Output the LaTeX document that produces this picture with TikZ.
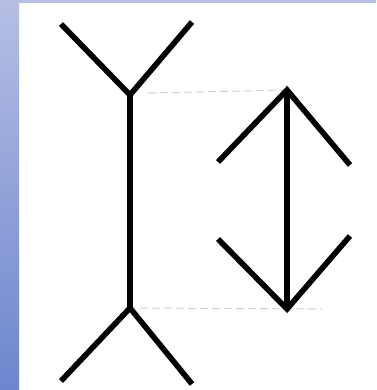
\documentclass[tikz,border=0pt]{standalone}
\definecolor{barTop}{RGB}{182,190,228}
\definecolor{barBot}{RGB}{108,134,206}
\begin{document}
\begin{tikzpicture}[x=0.5pt, y=-0.5pt,
  arm/.style={line width=2.8pt, black, line cap=butt, line join=miter},
  guide/.style={gray!35, line width=0.5pt, dash pattern=on 4pt off 2pt}]
  % frame and side bar
  \useasboundingbox (0,0) rectangle (376,390);
  \fill[white] (0,0) rectangle (376,390);
  \shade[top color=barTop, bottom color=barBot] (0,0) rectangle (19,390);
  \fill[barTop] (0,0) rectangle (376,3);
  % left figure: fins outward
  \coordinate (lt) at (130,95);
  \coordinate (lb) at (130,308);
  \coordinate (ltl) at (61,24);
  \coordinate (ltr) at (192,22);
  \coordinate (lbl) at (61,381);
  \coordinate (lbr) at (192,384);
  % right figure: arrow heads
  \coordinate (rt) at (287,90);
  \coordinate (rb) at (287,309);
  \coordinate (rtl) at (218,162);
  \coordinate (rtr) at (350,165);
  \coordinate (rbl) at (218,239);
  \coordinate (rbr) at (350,236);
  % faint guides
  \draw[guide] (lt) ++(18,-2) -- (rt);
  \draw[guide] (lb) ++(10,0) -- (322,309);
  \draw[arm] (lt) -- (lb);
  \draw[arm] (ltl) -- (lt) -- (ltr);
  \draw[arm] (lbl) -- (lb) -- (lbr);
  \draw[arm] (rt) -- (rb);
  \draw[arm] (rtl) -- (rt) -- (rtr);
  \draw[arm] (rbl) -- (rb) -- (rbr);
\end{tikzpicture}
\end{document}
